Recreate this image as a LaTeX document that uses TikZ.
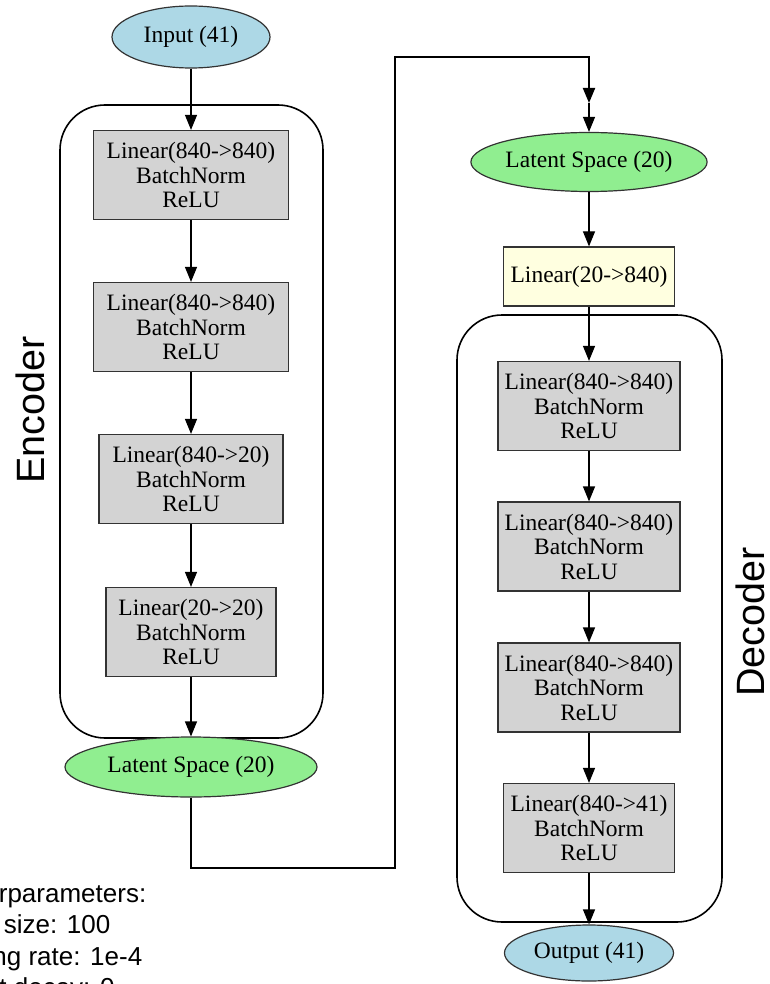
\documentclass[tikz,border=0pt]{standalone}
\usepackage{fontspec}
\setmainfont{Liberation Serif}
\setsansfont{Liberation Sans}
\usetikzlibrary{arrows.meta,shapes.geometric}
\definecolor{inputblue}{HTML}{ADD8E6}
\definecolor{latentgreen}{HTML}{90EE90}
\definecolor{layergray}{HTML}{D3D3D3}
\definecolor{projyellow}{HTML}{FFFFE0}

\begin{document}
\begin{tikzpicture}[x=1pt,y=-1pt,>={Triangle[length=15pt,width=12pt]},
    every node/.style={font=\fontsize{23.5}{24.5}\selectfont,inner sep=0pt},
    layerbox/.style={draw=black!80,line width=1.2pt,fill=layergray,align=center,minimum height=89pt},
    blob/.style={ellipse,draw=black!80,line width=1.2pt},
    stage/.style={draw,line width=1.6pt,rounded corners=45pt},
    flow/.style={->,line width=1.2pt},
    sidetitle/.style={font=\sffamily\fontsize{39.5}{42}\selectfont,rotate=90}]
    \useasboundingbox (0,0) rectangle (770,984);

    % draw the encoder and decoder frames
    \draw[stage] (60,105) rectangle (323,738);
    \draw[stage] (457,315) rectangle (722,922);

    % encoder
    \node[blob,fill=inputblue,minimum width=158pt,minimum height=62pt] (input) at (191,37) {Input (41)};
    \node[layerbox,minimum width=195pt] (enc1) at (191,175) {Linear(840->840)\\BatchNorm\\ReLU};
    \node[layerbox,minimum width=195pt] (enc2) at (191,327) {Linear(840->840)\\BatchNorm\\ReLU};
    \node[layerbox,minimum width=184pt] (enc3) at (191,479) {Linear(840->20)\\BatchNorm\\ReLU};
    \node[layerbox,minimum width=170pt] (enc4) at (191,632) {Linear(20->20)\\BatchNorm\\ReLU};
    \node[blob,fill=latentgreen,minimum width=252pt,minimum height=60pt] (lat1) at (191,767) {Latent Space (20)};

    % decoder
    \node[blob,fill=latentgreen,minimum width=234pt,minimum height=59pt] (lat2) at (589,162) {Latent Space (20)};
    \node[layerbox,fill=projyellow,minimum width=171pt,minimum height=59pt] (proj) at (589,276.5) {Linear(20->840)};
    \node[layerbox,minimum width=182pt] (dec1) at (589,406) {Linear(840->840)\\BatchNorm\\ReLU};
    \node[layerbox,minimum width=182pt] (dec2) at (589,546.5) {Linear(840->840)\\BatchNorm\\ReLU};
    \node[layerbox,minimum width=182pt] (dec3) at (589,687.5) {Linear(840->840)\\BatchNorm\\ReLU};
    \node[layerbox,minimum width=171pt] (dec4) at (589,828) {Linear(840->41)\\BatchNorm\\ReLU};
    \node[blob,fill=inputblue,minimum width=169pt,minimum height=56pt] (output) at (589,953) {Output (41)};

    % arrows
    \draw[flow] (input) -- (enc1);
    \draw[flow] (enc1) -- (enc2);
    \draw[flow] (enc2) -- (enc3);
    \draw[flow] (enc3) -- (enc4);
    \draw[flow] (enc4) -- (lat1);
    \draw[flow] (lat2) -- (proj);
    \draw[flow] (proj) -- (dec1);
    \draw[flow] (dec1) -- (dec2);
    \draw[flow] (dec2) -- (dec3);
    \draw[flow] (dec3) -- (dec4);
    \draw[flow] (dec4) -- (output);

    % link from encoder to decoder
    \coordinate (low) at (395,868);
    \coordinate (high) at (395,57);
    \coordinate (drop) at (589,103);
    \draw[->,line width=2pt] (lat1.south) |- (low) -- (high) -| (drop);
    \draw[flow] (drop) -- (lat2);

    % text at the sides
    \node[sidetitle] (enc) at (30,410) {Encoder};
    \node[sidetitle] (dec) at (750,622) {Decoder};
    \node[font=\sffamily\fontsize{26}{31.5}\selectfont,align=left,anchor=base west] (hyper) at (-62,996.5)
        {Hyperparameters:\\\hspace*{-8pt}Batch size: 100\\\hspace*{-18pt}Learning rate: 1e-4\\\hspace*{-12pt}Weight decay: 0};
\end{tikzpicture}
\end{document}
